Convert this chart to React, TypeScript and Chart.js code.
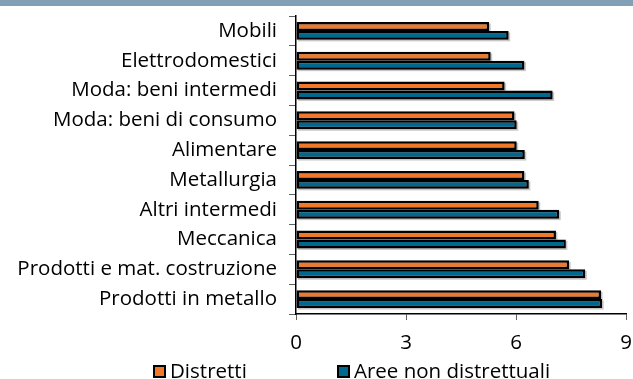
import React, { useEffect, useRef } from "react";
import { Chart, registerables } from "chart.js";

Chart.register(...registerables);

const categories = [
  "Mobili",
  "Elettrodomestici",
  "Moda: beni intermedi",
  "Moda: beni di consumo",
  "Alimentare",
  "Metallurgia",
  "Altri intermedi",
  "Meccanica",
  "Prodotti e mat. costruzione",
  "Prodotti in metallo",
];
const distretti = [5.27, 5.31, 5.69, 5.96, 6.02, 6.23, 6.62, 7.09, 7.45, 8.32];
const areeNonDistrettuali = [5.8, 6.23, 7.0, 6.02, 6.24, 6.35, 7.18, 7.36, 7.89, 8.35];
const seriesNames = ["Distretti", "Aree non distrettuali"];
const xTicks = [0, 3, 6, 9];

const ORANGE = "#f07828";
const BLUE = "#00688f";
const FONT = "'Open Sans', 'Noto Sans', sans-serif";
const FS = 20.5;

const shadowPlugin = {
  id: "barShadow",
  beforeDatasetsDraw(chart: any) {
    const ctx = chart.ctx;
    ctx.save();
    ctx.fillStyle = "rgba(0,0,0,0.22)";
    chart.data.datasets.forEach((_: any, i: number) => {
      const meta = chart.getDatasetMeta(i);
      meta.data.forEach((el: any) => {
        const p = el.getProps(["x", "y", "base", "height"], true);
        const left = Math.min(p.x, p.base);
        const w = Math.abs(p.x - p.base);
        ctx.fillRect(left + 1.5, p.y - p.height / 2 + 1.5, w, p.height);
      });
    });
    ctx.restore();
  },
};

export default function App() {
  const ref = useRef<HTMLCanvasElement | null>(null);

  useEffect(() => {
    document.body.style.margin = "0";
    const canvas = ref.current;
    if (!canvas) return;
    const chart = new Chart(canvas, {
      type: "bar",
      data: {
        labels: categories,
        datasets: [
          {
            label: seriesNames[0],
            data: distretti,
            backgroundColor: ORANGE,
            borderColor: "#000",
            borderWidth: 2.5,
            borderSkipped: false,
            categoryPercentage: 0.6,
            barPercentage: 1,
          },
          {
            label: seriesNames[1],
            data: areeNonDistrettuali,
            backgroundColor: BLUE,
            borderColor: "#000",
            borderWidth: 2.5,
            borderSkipped: false,
            categoryPercentage: 0.6,
            barPercentage: 1,
          },
        ],
      },
      options: {
        indexAxis: "y",
        animation: false,
        responsive: false,
        maintainAspectRatio: false,
        layout: { padding: { left: 0, right: 7, top: 16, bottom: 25 } },
        plugins: {
          legend: { display: false },
          tooltip: { enabled: false },
        },
        scales: {
          y: {
            type: "category",
            offset: true,
            grid: {
              offset: true,
              drawOnChartArea: false,
              drawTicks: true,
              tickLength: 7,
              color: "#606060",
            },
            border: { display: true, color: "#000", width: 1.5 },
            ticks: {
              padding: 12,
              color: "#000",
              font: { family: FONT, size: FS },
            },
            afterFit: (scale: any) => {
              scale.width = 296;
              scale.paddingTop = 0;
              scale.paddingBottom = 0;
            },
          },
          x: {
            type: "linear",
            min: 0,
            max: 9,
            afterBuildTicks: (scale: any) => {
              scale.ticks = xTicks.map((v) => ({ value: v }));
            },
            grid: {
              drawOnChartArea: false,
              drawTicks: true,
              tickLength: 6,
              color: "#606060",
            },
            border: { display: true, color: "#000", width: 1.5 },
            ticks: {
              padding: 11,
              color: "#000",
              font: { family: FONT, size: FS },
            },
            afterFit: (scale: any) => {
              scale.height = 40;
              scale.paddingLeft = 0;
              scale.paddingRight = 0;
            },
          },
        },
      },
      plugins: [shadowPlugin],
    });
    return () => chart.destroy();
  }, []);

  const legendItem = (color: string, text: string, left: number) => (
    <div
      style={{
        position: "absolute",
        left,
        top: 358,
        display: "flex",
        alignItems: "center",
        fontFamily: FONT,
        fontSize: FS,
        color: "#000",
        lineHeight: "24px",
        whiteSpace: "nowrap",
      }}
    >
      <span
        style={{
          display: "inline-block",
          width: 9,
          height: 9,
          background: color,
          border: "2px solid #000",
          marginRight: 4,
          marginTop: 3,
        }}
      />
      <span>{text}</span>
    </div>
  );

  return (
    <div style={{ position: "relative", width: 633, height: 379, overflow: "hidden", background: "#fff" }}>
      <canvas ref={ref} width={633} height={379} style={{ position: "absolute", left: 0, top: 0, width: 633, height: 379 }} />
      <div style={{ position: "absolute", left: 0, top: 0, width: 633, height: 6, background: "#819fb5" }} />
      {legendItem(ORANGE, seriesNames[0], 153)}
      {legendItem(BLUE, seriesNames[1], 337)}
    </div>
  );
}
